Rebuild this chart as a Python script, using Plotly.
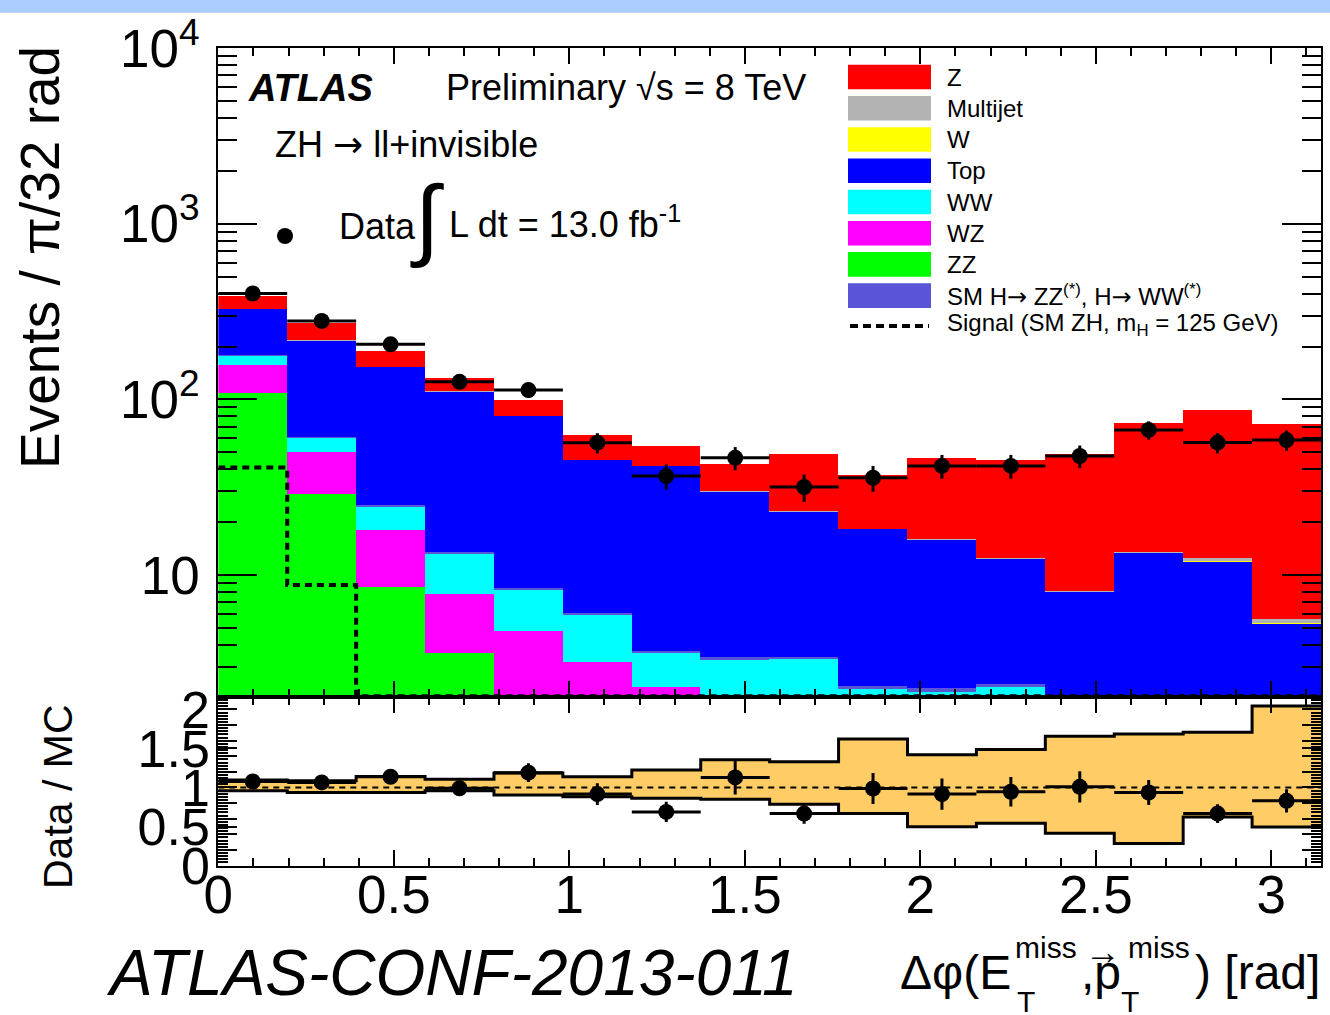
import numpy as np
import plotly.graph_objects as go

W, H = 1330, 1015


def px(x):
    return x / W


def py(y):
    return 1 - y / H


# ---------------- binning ----------------
n_bins = 16
bin_width = np.pi / n_bins
edges = np.arange(n_bins + 1) * bin_width
centers = edges[:-1] + bin_width / 2

# ---------------- background components (events per bin) ----------------
zz = [108, 28.8, 8.5, 3.6, 1.5, 0.9, 0.6, 0.4, 0.3, 0.3, 0.2, 0.2, 0.2, 0.2, 0.2, 0.2]
wz = [49, 21, 9.5, 4.2, 3.25, 2.3, 1.7, 1.1, 1.0, 0.8, 0.8, 0.8, 0.6, 0.6, 0.5, 0.5]
ww = [20, 10.3, 6.5, 5.4, 3.43, 2.77, 1.27, 1.78, 2.0, 1.13, 1.15, 1.3, 0.8, 0.9, 0.8, 0.7]
smh = [0.6, 0.4, 0.3, 0.2, 0.2, 0.1, 0.1, 0.1, 0.1, 0.1, 0.1, 0.1, 0.1, 0.1, 0.1, 0.1]
top = [149, 156.5, 128, 97.6, 72.1, 39.0, 38.1, 26.5, 19.5, 15.9, 13.6, 10.0, 6.3, 11.6, 10.3, 3.8]
wjets = [0.1, 0.05, 0.05, 0.03, 0.03, 0.02, 0.02, 0.02, 0.02, 0.02, 0.02, 0.02, 0.02, 0.02, 0.02, 0.02]
multijet = [0.05, 0.03, 0.03, 0.02, 0.02, 0.02, 0.02, 0.02, 0.02, 0.02, 0.02, 0.02, 0.02, 0.02, 0.5, 0.3]
zjets = [61.8, 52.9, 33.9, 20.9, 18.2, 17.3, 12.5, 12.8, 25.7, 18.7, 30.5, 32.7, 40.6, 59.6, 74.7, 66.5]

signal = [40.9, 8.77, 1.2, 0.6, 0.4, 0.3, 0.2, 0.2, 0.1, 0.1, 0.1, 0.1, 0.1, 0.1, 0.1, 0.1]

data = [401, 280, 206, 126, 113, 56.7, 36.6, 46.5, 31.7, 35.8, 41.8, 41.8, 47.6, 67.0, 56.8, 58.7]
data_err = [20, 17, 14, 11, 11, 7.5, 6, 7, 5.6, 6, 6.5, 6.5, 7, 8, 7.5, 7.7]

# ---------------- ratio panel ----------------
ratio = [1.077, 1.065, 1.138, 0.99, 1.19, 0.915, 0.687, 1.129, 0.665, 0.987, 0.915, 0.945, 1.009, 0.936, 0.665, 0.829]
ratio_err = [0.05, 0.06, 0.08, 0.09, 0.12, 0.14, 0.13, 0.22, 0.13, 0.2, 0.2, 0.19, 0.2, 0.16, 0.12, 0.15]
band_up = [1.095, 1.086, 1.142, 1.107, 1.185, 1.137, 1.223, 1.355, 1.331, 1.623, 1.421, 1.486, 1.657, 1.687, 1.709, 2.044]
band_lo = [0.957, 0.936, 0.936, 0.957, 0.905, 0.88, 0.863, 0.85, 0.785, 0.665, 0.498, 0.541, 0.412, 0.283, 0.623, 0.494]

components = [
    ("ZZ", zz, "#00FF00"),
    ("WZ", wz, "#FF00FF"),
    ("WW", ww, "#00FFFF"),
    ("SM H", smh, "#5A55D6"),
    ("Top", top, "#0000FF"),
    ("W", wjets, "#FFFF00"),
    ("Multijet", multijet, "#B3B3B3"),
    ("Z", zjets, "#FF0000"),
]

ARROW_S = "<span style='font-family:DejaVu Sans'>\u2192</span>"
ARROW_L = "<span style='font-family:DejaVu Sans'>\u2192</span>"

legend_entries = [
    ("Z", "#FF0000"),
    ("Multijet", "#B3B3B3"),
    ("W", "#FFFF00"),
    ("Top", "#0000FF"),
    ("WW", "#00FFFF"),
    ("WZ", "#FF00FF"),
    ("ZZ", "#00FF00"),
    ("SM H" + ARROW_S + " ZZ<sup>(*)</sup>, H" + ARROW_S + " WW<sup>(*)</sup>", "#5A55D6"),
]

FONT = "Liberation Sans"
YMIN_LOG = 0.305
YMIN = 10 ** YMIN_LOG

fig = go.Figure()

for name, vals, col in components:
    fig.add_trace(go.Bar(
        x=centers, y=vals, width=bin_width, name=name,
        marker=dict(color=col, line=dict(width=0)),
        showlegend=False, hoverinfo="skip", xaxis="x", yaxis="y",
    ))

sig_disp = [max(v, YMIN * 1.01) for v in signal]
fig.add_trace(go.Scatter(
    x=list(edges), y=sig_disp + [sig_disp[-1]], mode="lines",
    line=dict(shape="hv", color="black", width=4, dash="7px,5px"),
    showlegend=False, hoverinfo="skip", xaxis="x", yaxis="y",
))

fig.add_trace(go.Scatter(
    x=centers, y=data, mode="markers",
    marker=dict(size=16, color="black"),
    error_y=dict(type="data", array=data_err, thickness=3, width=0, color="black"),
    error_x=dict(type="constant", value=bin_width / 2, thickness=3, width=0, color="black"),
    showlegend=False, hoverinfo="skip", xaxis="x", yaxis="y",
))

# ratio band
fig.add_trace(go.Scatter(
    x=list(edges), y=band_lo + [band_lo[-1]], mode="lines",
    line=dict(shape="hv", color="black", width=3),
    showlegend=False, hoverinfo="skip", xaxis="x2", yaxis="y2",
))
fig.add_trace(go.Scatter(
    x=list(edges), y=band_up + [band_up[-1]], mode="lines",
    line=dict(shape="hv", color="black", width=3),
    fill="tonexty", fillcolor="#FFCC66",
    showlegend=False, hoverinfo="skip", xaxis="x2", yaxis="y2",
))
fig.add_trace(go.Scatter(
    x=[0, np.pi], y=[1, 1], mode="lines",
    line=dict(color="black", width=2, dash="6px,5px"),
    showlegend=False, hoverinfo="skip", xaxis="x2", yaxis="y2",
))
fig.add_trace(go.Scatter(
    x=centers, y=ratio, mode="markers",
    marker=dict(size=16, color="black"),
    error_y=dict(type="data", array=ratio_err, thickness=3, width=0, color="black"),
    error_x=dict(type="constant", value=bin_width / 2, thickness=3, width=0, color="black"),
    showlegend=False, hoverinfo="skip", xaxis="x2", yaxis="y2",
))

# ---------------- axes ----------------
x_dom = [px(218.3), px(1321)]
top_dom = [py(697), py(48.3)]
rat_dom = [py(865.5), py(697)]

x_major = [0, 0.5, 1, 1.5, 2, 2.5, 3]
x_minor = [round(0.1 * i, 1) for i in range(32) if round(0.1 * i, 1) not in x_major]

common_x = dict(
    range=[0, np.pi], domain=x_dom, showgrid=False, zeroline=False,
    showline=True, linecolor="black", linewidth=2, mirror="allticks",
    ticks="inside", ticklen=16, tickwidth=2, tickcolor="black",
    tickmode="array", tickvals=x_major, automargin=False,
    minor=dict(tickmode="array", tickvals=x_minor, ticks="inside", ticklen=8,
               tickwidth=2, tickcolor="black", showgrid=False),
)

y_major = [10, 100, 1000, 10000]
y_text = ["10", "10<sup>2</sup>", "10<sup>3</sup>", "10<sup>4</sup>"]
y_minor = [m * 10 ** k for k in range(0, 4) for m in range(2, 10) if m * 10 ** k > YMIN]

r_major = sorted(set([round(0.2 * i, 2) for i in range(11)] + [0.5, 1.5]))
r_text = [("%g" % v) if abs(v * 2 - round(v * 2)) < 1e-9 else "" for v in r_major]
r_minor = [round(0.04 * i, 2) for i in range(54) if round(0.04 * i, 2) not in r_major]

fig.update_layout(
    width=W, height=H, autosize=False,
    margin=dict(l=0, r=0, t=0, b=0, pad=0, autoexpand=False),
    paper_bgcolor="white", plot_bgcolor="white",
    barmode="stack", bargap=0, bargroupgap=0,
    font=dict(family=FONT, color="black"),
    showlegend=False,
    xaxis=dict(common_x, anchor="y", showticklabels=False),
    xaxis2=dict(common_x, anchor="y2", matches="x", showticklabels=True,
                ticktext=["0", "0.5", "1", "1.5", "2", "2.5", "3"],
                ticklabelstandoff=-18,
                tickfont=dict(size=53, family=FONT)),
    yaxis=dict(
        type="log", range=[YMIN_LOG, 4.0], domain=top_dom, anchor="x",
        showgrid=False, zeroline=False, showline=True, linecolor="black",
        linewidth=2, mirror="allticks", ticks="inside", ticklen=39, tickwidth=2,
        tickcolor="black", tickmode="array", tickvals=y_major, ticktext=y_text,
        tickfont=dict(size=53, family=FONT), automargin=False,
        ticklabelstandoff=6,
        minor=dict(tickmode="array", tickvals=y_minor, ticks="inside", ticklen=19,
                   tickwidth=2, tickcolor="black", showgrid=False),
    ),
    yaxis2=dict(
        range=[0, 2.16], domain=rat_dom, anchor="x2",
        showgrid=False, zeroline=False, showline=True, linecolor="black",
        linewidth=2, mirror="allticks", ticks="inside", ticklen=19, tickwidth=2,
        tickcolor="black", tickmode="array", tickvals=r_major, ticktext=r_text,
        tickfont=dict(size=52, family=FONT), automargin=False,
        ticklabelstandoff=-4,
        minor=dict(tickmode="array", tickvals=r_minor, ticks="inside", ticklen=10,
                   tickwidth=2, tickcolor="black", showgrid=False),
    ),
)

shapes = []
# light blue strip at the very top of the page
shapes.append(dict(type="rect", xref="paper", yref="paper", x0=0, x1=1,
                   y0=py(12.7), y1=1, fillcolor="#AACCFF", line=dict(width=0),
                   layer="below"))

annotations = []


def ann(text, x, y, size, xanchor="left", yanchor="middle", angle=0):
    annotations.append(dict(
        text=text, x=px(x), y=py(y), xref="paper", yref="paper",
        xanchor=xanchor, yanchor=yanchor, showarrow=False, textangle=angle,
        font=dict(size=size, family=FONT, color="black"),
    ))


# legend
row_y = [77, 108.3, 139.5, 170.7, 202, 233.2, 264.4, 295.6]
for (label, col), yc in zip(legend_entries, row_y):
    shapes.append(dict(type="rect", xref="paper", yref="paper",
                       x0=px(848), x1=px(931), y0=py(yc + 12.3), y1=py(yc - 12.3),
                       fillcolor=col, line=dict(width=0)))
    ann(label, 945, yc, 24)
shapes.append(dict(type="line", xref="paper", yref="paper",
                   x0=px(850), x1=px(929), y0=py(326), y1=py(326),
                   line=dict(color="black", width=4, dash="8px,5px")))
ann("Signal (SM ZH, m<sub>H</sub> = 125 GeV)", 945, 325, 24)

# top-left labels
ann("<b><i>ATLAS</i></b>", 246, 88, 38)
ann("Preliminary \u221As = 8 TeV", 444, 88, 36)
ann("ZH " + ARROW_L + " ll+invisible", 273, 145, 36)
shapes.append(dict(type="circle", xref="paper", yref="paper",
                   x0=px(277), x1=px(293), y0=py(244), y1=py(228),
                   fillcolor="black", line=dict(width=0)))
ann("Data", 337, 226, 36)
ann("\u222B", 427, 218, 90, xanchor="center")
ann("L dt = 13.0 fb<sup>-1</sup>", 447, 222, 36)

# axis titles
ann("Events / \u03C0/32 rad", 40, 258, 55, xanchor="center", angle=-90)
ann("Data / MC", 58, 797, 41, xanchor="center", angle=-90)
ann("<i>ATLAS-CONF-2013-011</i>", 104, 973, 64)

# x-axis title built from pieces so scripts stack like the original
ann("\u0394\u03C6(E", 1013, 972, 48, xanchor="right")
ann("miss", 1013, 947, 30)
ann("T", 1015, 1001, 30)
ann(",p", 1079, 972, 48)
ann("\u2192", 1103, 951, 36, xanchor="center")
ann("miss", 1126, 947, 30)
ann("T", 1119, 1001, 30)
ann(") [rad]", 1322, 972, 48, xanchor="right")

fig.update_layout(shapes=shapes, annotations=annotations)

fig.write_html(
    "out.html",
    config={"displayModeBar": False, "responsive": False},
    post_script="document.body.style.margin='0';document.body.style.overflow='hidden';",
)
